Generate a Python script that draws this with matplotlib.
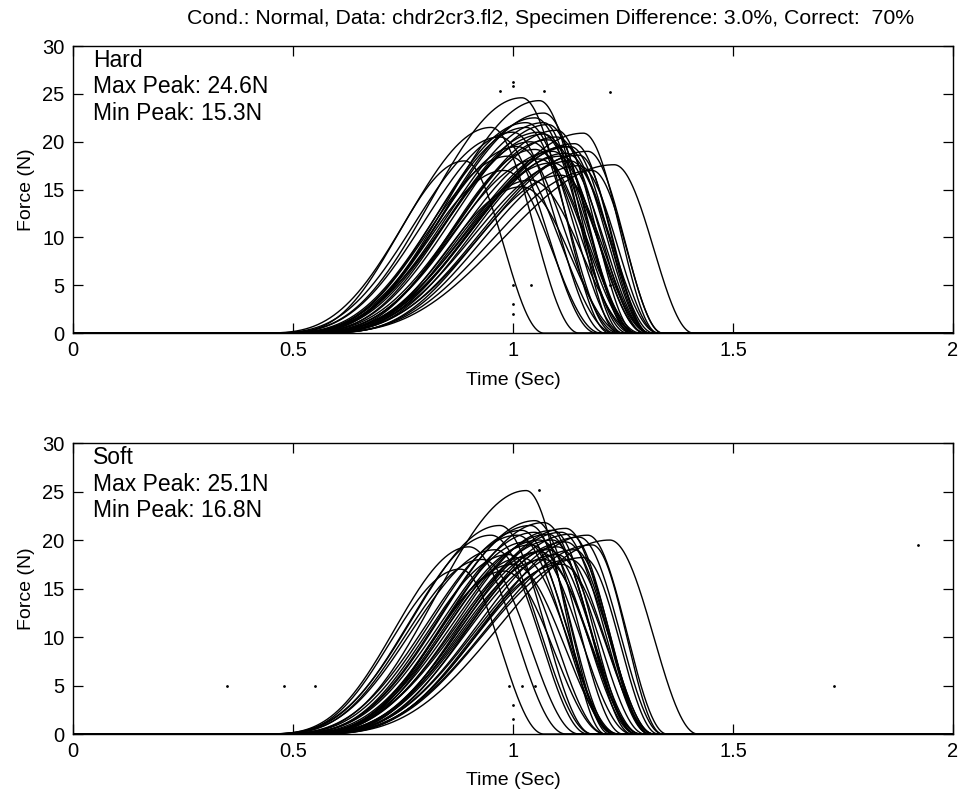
import numpy as np
import matplotlib
matplotlib.use("Agg")
import matplotlib.pyplot as plt

plt.rcParams['font.family'] = ['Liberation Sans', 'DejaVu Sans']

# ---------------- data ----------------
title_text = "Cond.: Normal, Data: chdr2cr3.fl2, Specimen Difference: 3.0%, Correct:  70%"
x_ticks = [0, 0.5, 1, 1.5, 2]
x_tick_labels = ["0", "0.5", "1", "1.5", "2"]
y_ticks = [0, 5, 10, 15, 20, 25, 30]

# Hard condition: per-trial onset time (s), peak time (s), peak force (N), fall duration (s)
hard_onset = [0.43, 0.46, 0.44, 0.41, 0.48, 0.51, 0.45, 0.42, 0.43, 0.45,
              0.46, 0.47, 0.48, 0.49, 0.48, 0.46, 0.50, 0.51, 0.50, 0.47,
              0.46, 0.45, 0.47, 0.49, 0.53, 0.49, 0.51, 0.44, 0.52, 0.52,
              0.50, 0.52, 0.53, 0.54, 0.49, 0.48, 0.48, 0.53, 0.44, 0.51]
hard_peak_time = [1.02, 1.06, 1.07, 0.95, 1.16, 1.23, 0.89, 0.97, 1.00, 1.03,
                  1.05, 1.08, 1.10, 1.12, 1.04, 1.06, 1.09, 1.11, 1.13, 1.01,
                  0.99, 1.07, 1.10, 1.14, 1.15, 1.08, 1.05, 1.03, 1.12, 1.18,
                  1.17, 1.09, 1.02, 1.11, 1.06, 1.13, 0.98, 1.04, 1.07, 1.15]
hard_peak_force = [24.6, 24.3, 23.0, 21.5, 20.9, 17.6, 18.0, 20.5, 21.0, 22.0,
                   22.5, 21.8, 20.5, 19.5, 20.0, 21.0, 19.0, 18.5, 18.0, 19.5,
                   18.5, 22.0, 21.2, 19.8, 17.5, 20.2, 19.2, 21.5, 18.8, 17.0,
                   19.0, 17.8, 15.3, 16.5, 18.2, 19.5, 17.0, 16.0, 20.8, 18.6]
hard_fall_time = [0.20, 0.19, 0.20, 0.20, 0.17, 0.18, 0.18, 0.22, 0.21, 0.22,
                  0.21, 0.19, 0.20, 0.19, 0.23, 0.22, 0.21, 0.20, 0.19, 0.23,
                  0.24, 0.17, 0.18, 0.17, 0.18, 0.22, 0.24, 0.20, 0.21, 0.16,
                  0.17, 0.22, 0.23, 0.20, 0.22, 0.18, 0.22, 0.24, 0.21, 0.16]

# Soft condition
soft_onset = [0.44, 0.42, 0.51, 0.43, 0.41, 0.45, 0.46, 0.48, 0.43, 0.49,
              0.50, 0.51, 0.48, 0.47, 0.50, 0.49, 0.46, 0.44, 0.51, 0.52,
              0.42, 0.45, 0.47, 0.50, 0.49, 0.51, 0.48, 0.53, 0.51, 0.51,
              0.52, 0.46, 0.45, 0.43, 0.47, 0.50, 0.50, 0.52, 0.48, 0.42]
soft_peak_time = [1.03, 0.90, 1.22, 0.88, 0.97, 1.05, 1.07, 1.09, 1.01, 1.11,
                  1.15, 1.17, 1.04, 1.06, 1.08, 1.12, 0.99, 1.02, 1.10, 1.13,
                  0.95, 1.05, 1.09, 1.14, 1.00, 1.07, 1.03, 1.11, 1.16, 0.98,
                  1.06, 1.12, 1.04, 0.93, 1.08, 1.18, 1.02, 1.10, 1.13, 0.96]
soft_peak_force = [25.1, 19.3, 20.0, 17.0, 21.5, 22.0, 21.8, 21.0, 20.5, 20.8,
                   20.3, 20.5, 19.5, 20.0, 19.0, 19.8, 18.5, 21.0, 18.5, 18.0,
                   20.5, 20.8, 20.0, 19.0, 17.5, 18.0, 19.8, 17.5, 18.2, 16.8,
                   18.8, 21.2, 21.5, 18.0, 20.6, 19.5, 18.2, 19.3, 20.6, 19.0]
soft_fall_time = [0.18, 0.22, 0.20, 0.19, 0.21, 0.20, 0.21, 0.19, 0.22, 0.20,
                  0.19, 0.18, 0.23, 0.22, 0.21, 0.20, 0.22, 0.21, 0.20, 0.19,
                  0.23, 0.17, 0.18, 0.17, 0.24, 0.22, 0.20, 0.21, 0.17, 0.23,
                  0.23, 0.19, 0.19, 0.22, 0.20, 0.16, 0.22, 0.22, 0.18, 0.21]

# stray marker dots visible in the plot
hard_dots_t = [1.00, 1.00, 0.97, 1.07, 1.22, 1.00, 1.04, 1.22, 1.00, 1.00]
hard_dots_f = [26.3, 25.8, 25.3, 25.3, 25.2, 5.0, 5.0, 5.0, 3.0, 2.0]
soft_dots_t = [0.35, 0.48, 0.55, 0.99, 1.02, 1.05, 1.73, 1.92, 1.06, 1.00, 1.00]
soft_dots_f = [5.0, 5.0, 5.0, 5.0, 5.0, 5.0, 5.0, 19.5, 25.2, 3.0, 1.5]

panels = [
    ("Hard", "Max Peak: 24.6N", "Min Peak: 15.3N",
     hard_onset, hard_peak_time, hard_peak_force, hard_fall_time,
     hard_dots_t, hard_dots_f),
    ("Soft", "Max Peak: 25.1N", "Min Peak: 16.8N",
     soft_onset, soft_peak_time, soft_peak_force, soft_fall_time,
     soft_dots_t, soft_dots_f),
]

t = np.linspace(0, 2, 2001)


def pulse(t0, tp, H, d):
    f = np.zeros_like(t)
    r = (t > t0) & (t <= tp)
    s = (t[r] - t0) / (tp - t0)
    f[r] = H * ((1 - np.cos(np.pi * s)) / 2) ** 1.8
    fl = (t > tp) & (t < tp + d)
    f[fl] = H * 0.5 * (1 + np.cos(np.pi * (t[fl] - tp) / d))
    return f


fig = plt.figure(figsize=(9.65, 7.95), dpi=100)
ax_rects = [[0.0756, 0.581, 0.912, 0.361], [0.0756, 0.0767, 0.912, 0.366]]

for rect, (name, mx, mn, t0s, tps, Hs, ds, dt, df) in zip(ax_rects, panels):
    ax = fig.add_axes(rect)
    for t0, tp, H, d in zip(t0s, tps, Hs, ds):
        ax.plot(t, pulse(t0, tp, H, d), color='black', lw=1.0)
    ax.plot(dt, df, linestyle='none', marker='.', ms=2, color='black')
    ax.set_xlim(0, 2)
    ax.set_ylim(0, 30)
    ax.set_xticks(x_ticks)
    ax.set_xticklabels(x_tick_labels)
    ax.set_yticks(y_ticks)
    ax.tick_params(direction='in', length=7, width=0.9, top=True, right=True,
                   labelsize=14.5, pad=6, colors='black')
    for s in ax.spines.values():
        s.set_linewidth(1.0)
    ax.set_xlabel("Time (Sec)", fontsize=14, labelpad=8)
    ax.set_ylabel("Force (N)", fontsize=14, labelpad=5)
    ax.text(0.045, 28.5, name, fontsize=16.5, va='center', ha='left')
    ax.text(0.045, 25.75, mx, fontsize=16.5, va='center', ha='left')
    ax.text(0.045, 23.0, mn, fontsize=16.5, va='center', ha='left')

fig.text(0.571, 1 - 18 / 795, title_text, fontsize=15.3, ha='center', va='center')

fig.savefig("out.png", dpi=100, facecolor='white')
